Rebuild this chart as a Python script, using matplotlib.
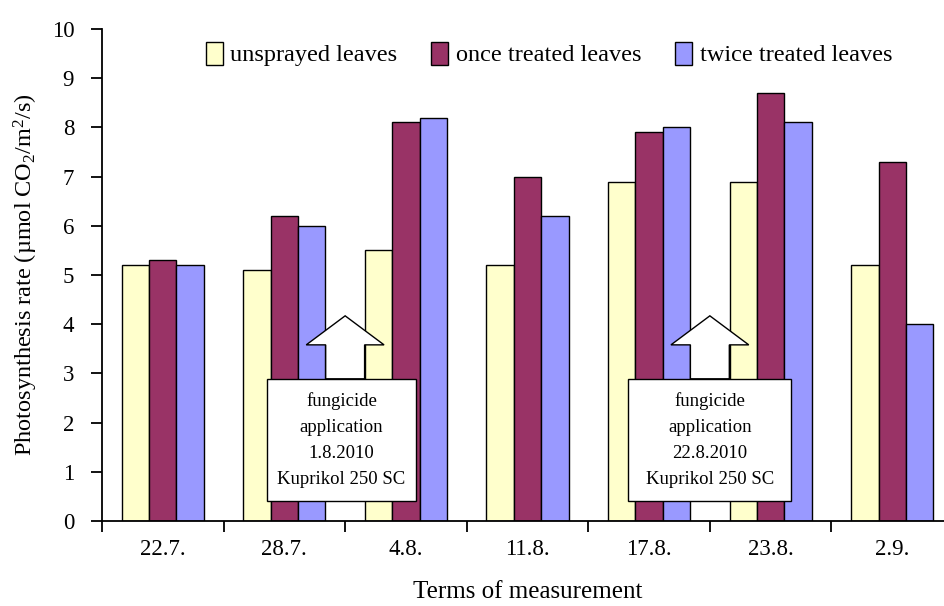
import matplotlib
matplotlib.use("Agg")
import matplotlib.pyplot as plt
import numpy as np
from matplotlib.patches import Polygon, Rectangle

plt.rcParams['font.family'] = ['Liberation Serif', 'DejaVu Serif']
plt.rcParams['mathtext.fontset'] = 'custom'
plt.rcParams['mathtext.rm'] = 'Liberation Serif'

categories = ["22.7.", "28.7.", "4.8.", "11.8.", "17.8.", "23.8.", "2.9."]
unsprayed = [5.2, 5.1, 5.5, 5.2, 6.9, 6.9, 5.2]
once = [5.3, 6.2, 8.1, 7.0, 7.9, 8.7, 7.3]
twice = [5.2, 6.0, 8.2, 6.2, 8.0, 8.1, 4.0]
series_names = ["unsprayed leaves", "once treated leaves", "twice treated leaves"]
colors = ["#FFFFCC", "#993366", "#9999FF"]
callouts = [(1.5, "fungicide\napplication\n1.8.2010\nKuprikol 250 SC"),
            (4.5, "fungicide\napplication\n22.8.2010\nKuprikol 250 SC")]

W, H = 945, 606
fig = plt.figure(figsize=(W / 100, H / 100), dpi=100)
ax = fig.add_axes([102 / W, (606 - 521) / H, 851 / W, (521 - 29) / H])

x = np.arange(len(categories))
bw = 0.225
handles = []
for i, (vals, c, name) in enumerate(zip([unsprayed, once, twice], colors, series_names)):
    b = ax.bar(x + (i - 1) * bw, vals, width=bw, color=c, edgecolor="black",
               linewidth=1.0, label=name, zorder=2)
    handles.append(b)

ax.set_xlim(-0.5, len(categories) - 0.5)
ax.set_ylim(0, 10)
ax.set_yticks(range(0, 11))
ax.set_xticks(x)
ax.set_xticklabels(categories, fontsize=16.5)
ax.set_xticks(np.arange(-0.5, len(categories), 1.0), minor=True)
ax.tick_params(axis='x', which='major', length=0, pad=13)
ax.tick_params(axis='x', which='minor', length=8, width=1.3, direction='out')
ax.tick_params(axis='y', length=8, width=1.3, direction='out', labelsize=16.5, pad=12)
for s in ["top", "right"]:
    ax.spines[s].set_visible(False)
for s in ["left", "bottom"]:
    ax.spines[s].set_linewidth(1.3)

ax.set_ylabel(r"Photosynthesis rate (µmol CO$\mathregular{_2}$/m$\mathregular{^2}$/s)",
              fontsize=17.5, labelpad=8)
ax.set_xlabel("Terms of measurement", fontsize=18, labelpad=15)

# callouts
for (cx, txt), (bl, br) in zip(callouts, [(-0.64, 0.58), (-0.67, 0.67)]):
    tip = 4.17
    hb = 3.58
    top = 2.89
    bot = 0.41
    hw = 0.32
    sw = 0.16
    poly = Polygon([(cx, tip), (cx + hw, hb), (cx + sw, hb), (cx + sw, top),
                    (cx - sw, top), (cx - sw, hb), (cx - hw, hb)], closed=True,
                   facecolor="white", edgecolor="black", linewidth=1.0, zorder=4)
    ax.add_patch(poly)
    rect = Rectangle((cx + bl, bot), br - bl, top - bot, facecolor="white",
                     edgecolor="black", linewidth=1.0, zorder=5)
    ax.add_patch(rect)
    ax.text(cx + (bl + br) / 2, (top + bot) / 2, txt, ha="center", va="center",
            fontsize=13.5, linespacing=1.7, zorder=6)

fig.legend(handles=handles, labels=series_names, loc="center",
           bbox_to_anchor=(549 / W, 1 - 54 / H), ncol=3, frameon=False,
           fontsize=17.5, handlelength=0.7, handleheight=1.1, handletextpad=0.3,
           columnspacing=1.4)

fig.savefig("out.png", dpi=100)
